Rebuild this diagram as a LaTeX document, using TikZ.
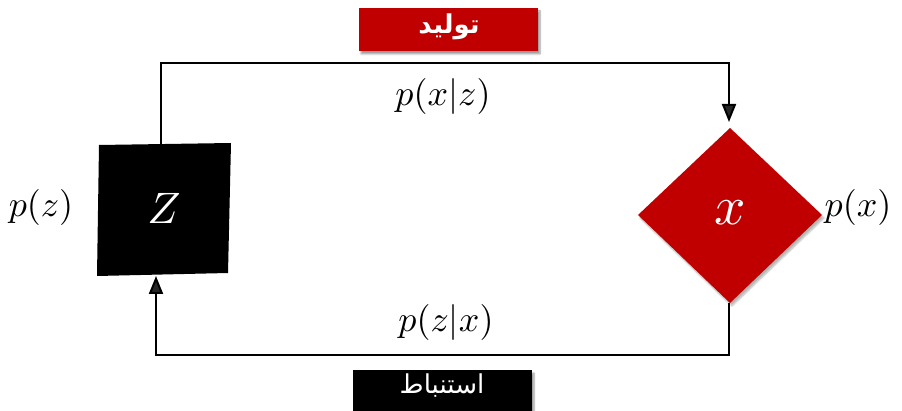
\documentclass[tikz,border=0pt]{standalone}
\usepackage{fontspec}
\usetikzlibrary{arrows.meta,shadows.blur}
\newfontfamily\arabicfont[Script=Arabic]{DejaVu Sans}
\TeXXeTstate=1
\definecolor{darkred}{HTML}{C00000}
\tikzset{
  conn/.style={line width=2pt},
  arr/.style={conn,-{Triangle[length=18pt,width=14pt]}},
  banner/.style={inner sep=0pt,minimum width=179pt,minimum height=43pt,text=white,
     blur shadow={shadow xshift=2pt,shadow yshift=-3pt,shadow blur steps=6,shadow opacity=40}},
  bannertext/.style={text=white,inner sep=0pt,font=\fontsize{26}{30}\selectfont\arabicfont},
  lbl/.style={scale=3.6,inner sep=0pt},
}
\begin{document}
\begin{tikzpicture}[x=1pt,y=-1pt]
\useasboundingbox (0,0) rectangle (902,411);
% banners
\node[banner,fill=darkred] (gen) at (448.5,29.5) {};
\node[bannertext] (gentext) at (449,27) {\bfseries\beginR تولید\endR};
\node[banner,fill=black,minimum height=50pt] (inf) at (442.5,395) {};
\node[bannertext] (inftext) at (442,386) {\beginR استنباط\endR};
% square Z
\fill[black] (99,145) -- (231,143) -- (228,273) -- (97,276) -- cycle;
\node[text=white,scale=4.4] (Z) at (164,208) {$Z$};
% diamond x
\fill[darkred, blur shadow={shadow xshift=2pt,shadow yshift=-3pt,shadow blur steps=6,shadow opacity=30}] (730,128) -- (822,215) -- (730,303) -- (638,215) -- cycle;
\node[text=white,scale=5.5] (X) at (730,213) {$x$};
% connector anchors
\coordinate (Ztop) at (161,144);
\coordinate (Zbot) at (156,276);
\coordinate (Xtop) at (729,122);
\coordinate (Xbot) at (729,303);
\coordinate (topR) at (729,63);
\coordinate (botL) at (156,355);
\draw[arr] (Ztop) |- (topR) -- (Xtop);
\draw[arr] (Xbot) |- (botL) -- (Zbot);
% labels
\node[lbl] (pxz) at (443,97) {$p(x|z)$};
\node[lbl] (pzx) at (446,323) {$p(z|x)$};
\node[lbl] (pz) at (41,208) {$p(z)$};
\node[lbl] (px) at (858,208) {$p(x)$};
\end{tikzpicture}
\end{document}
